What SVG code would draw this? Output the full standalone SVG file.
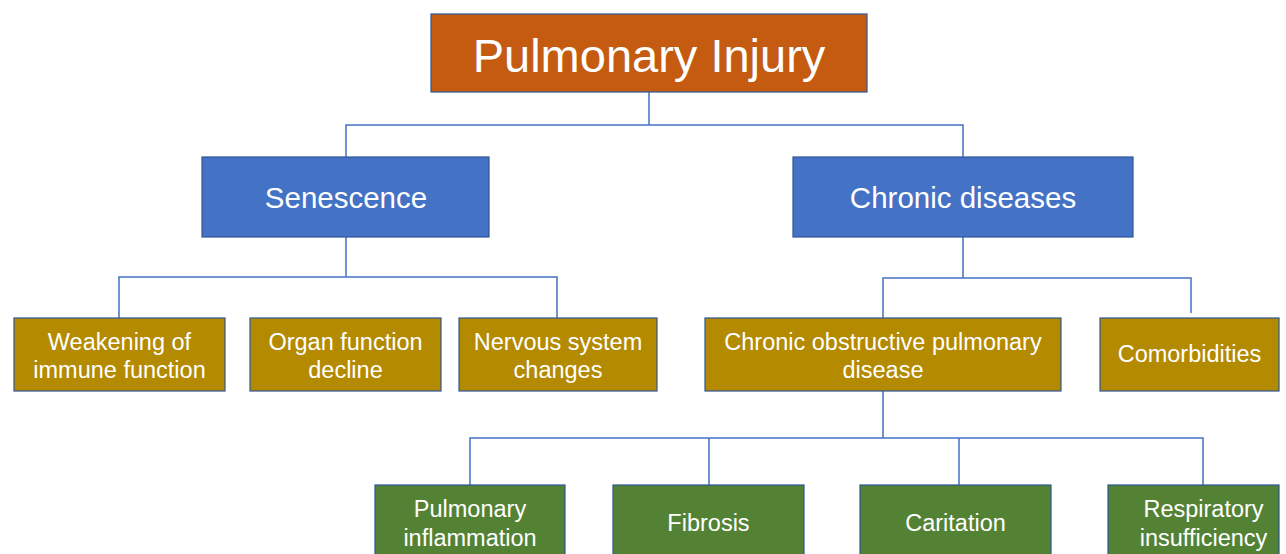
<svg xmlns="http://www.w3.org/2000/svg" width="1286" height="554" viewBox="0 0 1286 554">
<style>
.box{stroke:#2F5597;stroke-width:1.2}
.l1{fill:#C55A11}
.l2{fill:#4472C4}
.l3{fill:#B38A00}
.l4{fill:#548235}
text{font-family:"Liberation Sans",Arial,sans-serif;fill:#fff;text-anchor:middle}
.t1{font-size:47px}
.t2{font-size:29.5px}
.t3{font-size:23.5px}
.conn{fill:none;stroke:#4472C4;stroke-width:1.5}
</style>
<rect width="1286" height="554" fill="#fff"/>
<g id="connectors" class="conn">
<path d="M649 92V125M346 157V125H963V157"/>
<path d="M346 237V277M119 318V277H557V318"/>
<path d="M963 237V278M883 318V278H1191V313"/>
<path d="M883 391V438M470 485V438H1203V485M709 485V438M959 485V438"/>
</g>
<g id="n-pulmonary-injury"><rect class="box l1" x="431" y="14" width="436" height="78"/><text class="t1" x="649" y="72">Pulmonary Injury</text></g>
<g id="n-senescence"><rect class="box l2" x="202" y="157" width="287" height="80"/><text class="t2" x="346" y="208">Senescence</text></g>
<g id="n-chronic"><rect class="box l2" x="793" y="157" width="340" height="80"/><text class="t2" x="963" y="208">Chronic diseases</text></g>
<g id="n-weakening"><rect class="box l3" x="14" y="318" width="211" height="73"/><text class="t3" x="119.5" y="350">Weakening of</text><text class="t3" x="119.5" y="378">immune function</text></g>
<g id="n-organ"><rect class="box l3" x="250" y="318" width="191" height="73"/><text class="t3" x="345.5" y="350">Organ function</text><text class="t3" x="345.5" y="378">decline</text></g>
<g id="n-nervous"><rect class="box l3" x="459" y="318" width="198" height="73"/><text class="t3" x="558" y="350">Nervous system</text><text class="t3" x="558" y="378">changes</text></g>
<g id="n-copd"><rect class="box l3" x="705" y="318" width="356" height="73"/><text class="t3" x="883" y="350">Chronic obstructive pulmonary</text><text class="t3" x="883" y="378">disease</text></g>
<g id="n-comorbidities"><rect class="box l3" x="1100" y="318" width="179" height="73"/><text class="t3" x="1189.5" y="362">Comorbidities</text></g>
<g id="n-inflammation"><rect class="box l4" x="375" y="485" width="190" height="75"/><text class="t3" x="470" y="517">Pulmonary</text><text class="t3" x="470" y="546">inflammation</text></g>
<g id="n-fibrosis"><rect class="box l4" x="613" y="485" width="191" height="75"/><text class="t3" x="708.5" y="531">Fibrosis</text></g>
<g id="n-caritation"><rect class="box l4" x="860" y="485" width="191" height="75"/><text class="t3" x="955.5" y="531">Caritation</text></g>
<g id="n-respiratory"><rect class="box l4" x="1108" y="485" width="171" height="75"/><text class="t3" x="1203.5" y="517">Respiratory</text><text class="t3" x="1203.5" y="546">insufficiency</text></g>
</svg>
